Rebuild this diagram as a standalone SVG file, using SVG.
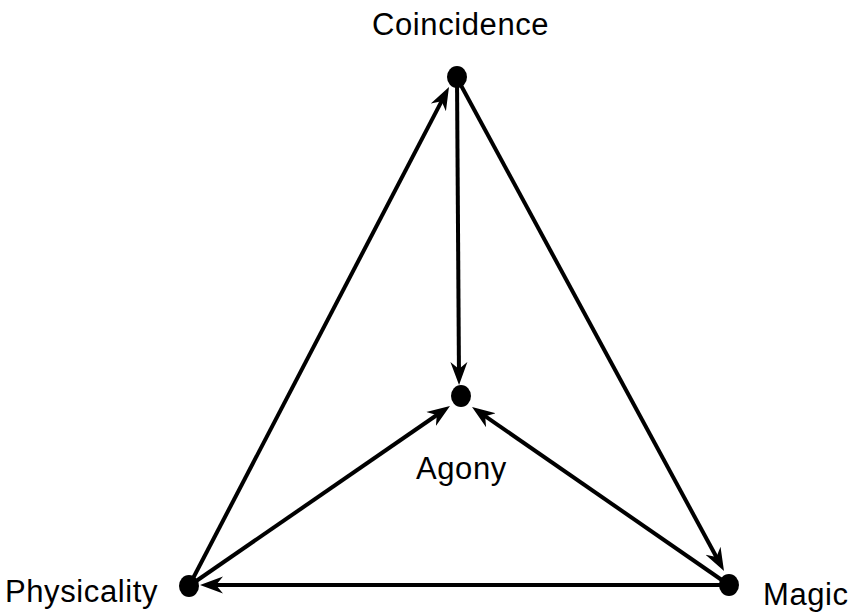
<svg xmlns="http://www.w3.org/2000/svg" width="860" height="615" viewBox="0 0 860 615">
<style>
.edge{stroke:#000;stroke-width:4;fill:none;marker-end:url(#arr)}
.node{fill:#000}
.lbl{font-family:"Liberation Sans",Arial,sans-serif;font-size:31px;letter-spacing:0.6px;fill:#000}
</style>
<defs>
<marker id="arr" markerUnits="userSpaceOnUse" viewBox="0 -10 30 20" markerWidth="30" markerHeight="20" refX="15" refY="0" orient="auto">
<path d="M23,0 L0,-8.5 L7,0 L0,8.5 Z" fill="#000"/>
</marker>
</defs>
<rect width="860" height="615" fill="#fff"/>
<g id="connectors">
<line class="edge" x1="189" y1="586" x2="445.3" y2="94.1"/>
<line class="edge" x1="457" y1="78" x2="459" y2="377"/>
<line class="edge" x1="457" y1="78" x2="720.2" y2="564"/>
<line class="edge" x1="189" y1="586" x2="443.4" y2="410.5"/>
<line class="edge" x1="729" y1="585" x2="478.6" y2="411.6"/>
<line class="edge" x1="729" y1="585" x2="208" y2="585"/>
</g>
<g id="coincidence">
<ellipse class="node" cx="457" cy="77" rx="10" ry="11"/>
<text class="lbl" x="372" y="35">Coincidence</text>
</g>
<g id="agony">
<ellipse class="node" cx="461" cy="396" rx="10" ry="11"/>
<text class="lbl" x="416" y="479">Agony</text>
</g>
<g id="physicality">
<ellipse class="node" cx="189" cy="586" rx="10" ry="11"/>
<text class="lbl" x="5" y="602">Physicality</text>
</g>
<g id="magic">
<ellipse class="node" cx="729" cy="585" rx="10" ry="11"/>
<text class="lbl" x="763" y="605">Magic</text>
</g>
</svg>
